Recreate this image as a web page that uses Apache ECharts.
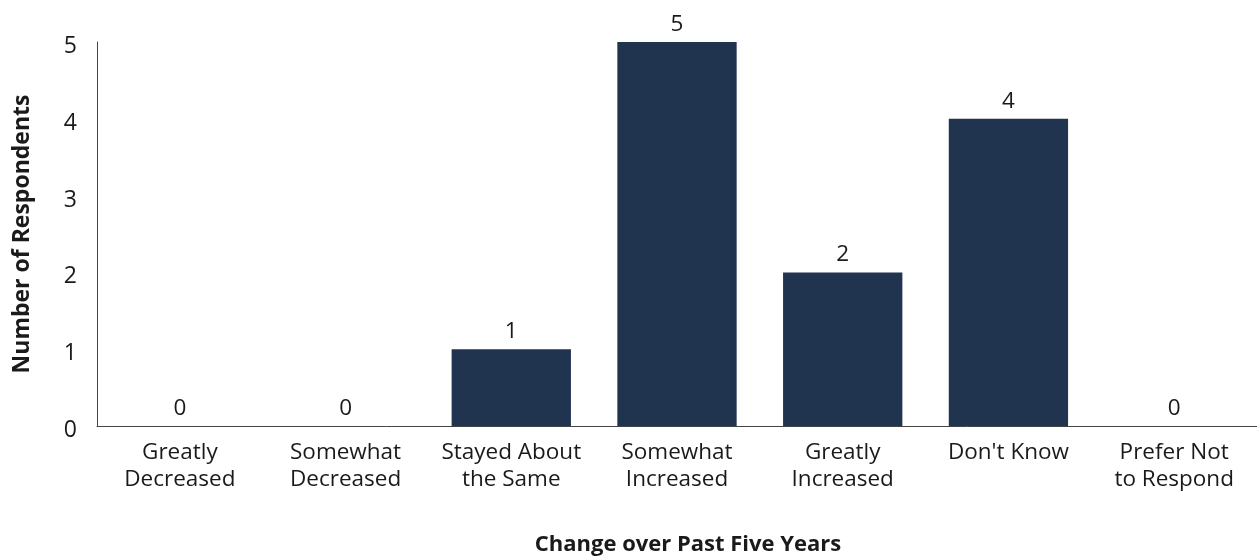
<!DOCTYPE html>
<html>
<head>
<meta charset="utf-8">
<script src="https://cdn.jsdelivr.net/npm/echarts@6/dist/echarts.min.js"></script>
<style>
  html, body { margin: 0; padding: 0; background: #fff; }
  #chart { width: 1257px; height: 556px; }
</style>
</head>
<body>
<div id="chart"></div>
<script>
// Survey responses: change over the past five years
const categories = [
  'Greatly\nDecreased',
  'Somewhat\nDecreased',
  'Stayed About\nthe Same',
  'Somewhat\nIncreased',
  'Greatly\nIncreased',
  "Don't Know",
  'Prefer Not\nto Respond'
];
const respondents = [0, 0, 1, 5, 2, 4, 0];
const yTicks = { min: 0, max: 5, interval: 1 };

const FONT = '"Open Sans", "Noto Sans", sans-serif';
const TEXT = '#1a1a1a';
const AXIS = '#444444';

const chart = echarts.init(document.getElementById('chart'), null, { renderer: 'canvas' });
chart.setOption({
  animation: false,
  textStyle: { fontFamily: FONT },
  grid: {
    left: 97, right: 0, top: 42, bottom: 130,
    containLabel: false, outerBoundsMode: 'none'
  },
  xAxis: {
    type: 'category',
    data: categories,
    name: 'Change over Past Five Years',
    nameLocation: 'middle',
    nameGap: 108,
    nameTextStyle: {
      fontFamily: FONT, fontSize: 22, fontWeight: 'bold', color: TEXT,
      padding: [0, 0, 0, 22]
    },
    axisLine: { show: true, lineStyle: { color: AXIS, width: 1 } },
    axisTick: { show: false },
    axisLabel: {
      interval: 0, margin: 13, fontFamily: FONT, fontSize: 22.5,
      lineHeight: 27, color: TEXT
    },
    splitLine: { show: false }
  },
  yAxis: {
    type: 'value',
    min: yTicks.min,
    max: yTicks.max,
    interval: yTicks.interval,
    name: 'Number of Respondents',
    nameLocation: 'middle',
    nameGap: 63,
    nameRotate: 90,
    nameTextStyle: { fontFamily: FONT, fontSize: 23, fontWeight: 'bold', color: TEXT },
    axisLine: { show: true, lineStyle: { color: AXIS, width: 1 } },
    axisTick: { show: false },
    axisLabel: {
      margin: 20,
      formatter: '{t|{value}}',
      rich: {
        t: { fontFamily: FONT, fontSize: 23, color: TEXT, padding: [9, 0, 0, 0] }
      }
    },
    splitLine: { show: false }
  },
  series: [{
    type: 'bar',
    data: respondents,
    barCategoryGap: '28%',
    itemStyle: { color: '#20344f' },
    label: {
      show: true, position: 'top', distance: 6,
      fontFamily: FONT, fontSize: 22.5, color: TEXT
    }
  }]
});
</script>
</body>
</html>
